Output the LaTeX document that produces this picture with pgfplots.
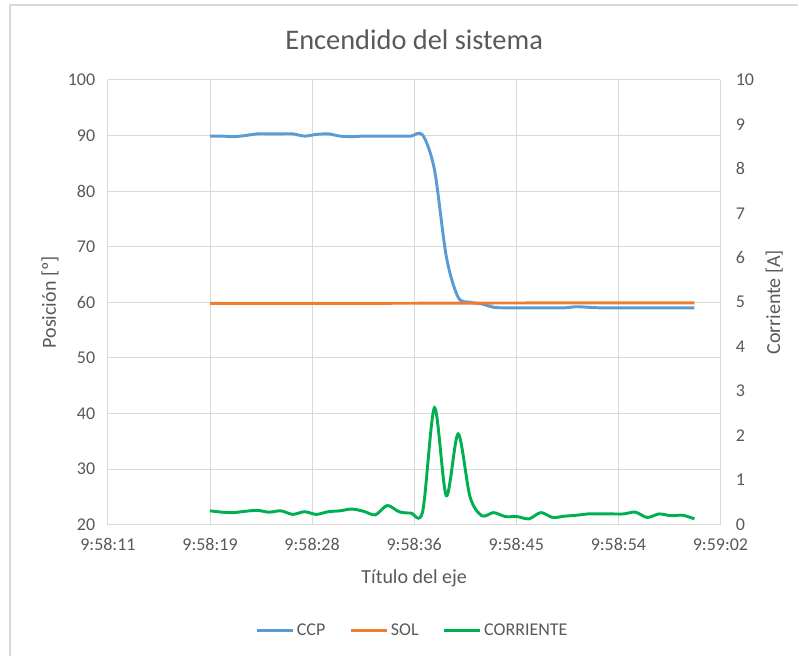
\documentclass[border=0pt]{standalone}
\usepackage{pgfplots}
\pgfplotsset{compat=1.18}
\usepackage{fontspec}
\setmainfont{Carlito}
\definecolor{ccp}{HTML}{5B9BD5}
\definecolor{sol}{HTML}{ED7D31}
\definecolor{corr}{HTML}{00B050}
\definecolor{txt}{HTML}{595959}
\definecolor{grd}{HTML}{D9D9D9}

\pgfplotsset{
  base/.style={
    width=459.75pt, height=333.75pt, scale only axis,
    xmin=0, xmax=51.84,
    axis line style={draw=none}, tick style={draw=none},
    major tick length=0pt,
    /pgf/number format/assume math mode=true,
    ticklabel style={font=\fontsize{13.5}{16}\selectfont, text=txt},
    label style={font=\fontsize{15}{18}\selectfont, text=txt},
  }
}

\begin{document}
\begin{tikzpicture}
% frame of the chart area
\draw[grd, line width=0.9pt] (-73.5pt,-98.25pt) -- (-73.5pt,390pt) -- (518.25pt,390pt);
\useasboundingbox (-81pt,-98.25pt) rectangle (518.25pt,393.75pt);

\begin{axis}[base,
  ymin=20, ymax=100, ytick={20,30,...,100},
  xtick={0,8.64,17.28,25.92,34.56,43.2,51.84},
  xticklabels={9:58:11,9:58:19,9:58:28,9:58:36,9:58:45,9:58:54,9:59:02},
  xticklabel style={yshift=-7pt},
  yticklabel style={xshift=-6pt},
  grid=major, major grid style={grd, line width=0.75pt},
  xlabel={Título del eje},
  xlabel style={at={(axis description cs:0.5,-0.12)}, anchor=center},
  ylabel={Posición [º]},
  ylabel style={at={(axis description cs:-0.0946,0.5)}, anchor=center},
  clip=false,
]
\addplot[ccp, line width=2.2pt, smooth, tension=0.5] coordinates {
  (8.64,89.9) (9.64,89.9) (10.64,89.8) (11.64,90.0) (12.64,90.3) (13.64,90.3)
  (14.64,90.3) (15.64,90.3) (16.64,89.9) (17.64,90.2) (18.64,90.3) (19.64,89.9)
  (20.64,89.8) (21.64,89.9) (22.64,89.9) (23.64,89.9) (24.64,89.9) (25.64,89.9)
  (26.64,90.1) (27.64,83.8) (28.64,68.2) (29.64,60.9) (30.64,60.0) (31.64,59.7)
  (32.64,59.1) (33.64,59.0) (34.64,59.0) (35.64,59.0) (36.64,59.0) (37.64,59.0)
  (38.64,59.0) (39.64,59.2) (40.64,59.1) (41.64,59.0) (42.64,59.0) (43.64,59.0)
  (44.64,59.0) (45.64,59.0) (46.64,59.0) (47.64,59.0) (48.64,59.0) (49.64,59.0)
};
\addplot[sol, line width=2.2pt] coordinates {
  (8.64,59.8) (20.64,59.8) (29.64,59.85) (40.64,59.9) (49.64,59.9)
};
\node[font=\fontsize{21.3}{25}\selectfont, text=txt] at (axis description cs:0.5,1.09) {Encendido del sistema};
\end{axis}

\begin{axis}[base,
  ymin=0, ymax=10, ytick={0,1,...,10},
  axis x line=none, axis y line*=right,
  yticklabel style={xshift=8pt},
  ylabel={Corriente [A]},
  ylabel style={at={(axis description cs:1.088,0.5)}, anchor=center, rotate=0},
  legend style={at={(axis description cs:0.4976,-0.238)}, anchor=center,
    draw=none, fill=none, legend columns=3,
    font=\fontsize{13.5}{16}\selectfont, text=txt,
    /tikz/every even column/.append style={column sep=16pt}},
  legend image code/.code={\draw[#1, line width=2.2pt] (0pt,0pt) -- (27pt,0pt);},
]
\addlegendimage{ccp}
\addlegendentry{CCP}
\addlegendimage{sol}
\addlegendentry{SOL}
\addplot[corr, line width=2.2pt, smooth, tension=0.5] coordinates {
  (8.64,0.31) (9.64,0.28) (10.64,0.27) (11.64,0.30) (12.64,0.32) (13.64,0.28)
  (14.64,0.31) (15.64,0.23) (16.64,0.29) (17.64,0.23) (18.64,0.29) (19.64,0.31)
  (20.64,0.35) (21.64,0.30) (22.64,0.22) (23.64,0.43) (24.64,0.29) (25.64,0.26)
  (26.64,0.30) (27.64,2.63) (28.64,0.65) (29.64,2.04) (30.64,0.63) (31.64,0.20)
  (32.64,0.27) (33.64,0.18) (34.64,0.18) (35.64,0.13) (36.64,0.27) (37.64,0.16)
  (38.64,0.19) (39.64,0.21) (40.64,0.24) (41.64,0.24) (42.64,0.24) (43.64,0.24)
  (44.64,0.28) (45.64,0.16) (46.64,0.24) (47.64,0.20) (48.64,0.21) (49.64,0.13)
};
\addlegendentry{CORRIENTE}
\end{axis}
\end{tikzpicture}
\end{document}
